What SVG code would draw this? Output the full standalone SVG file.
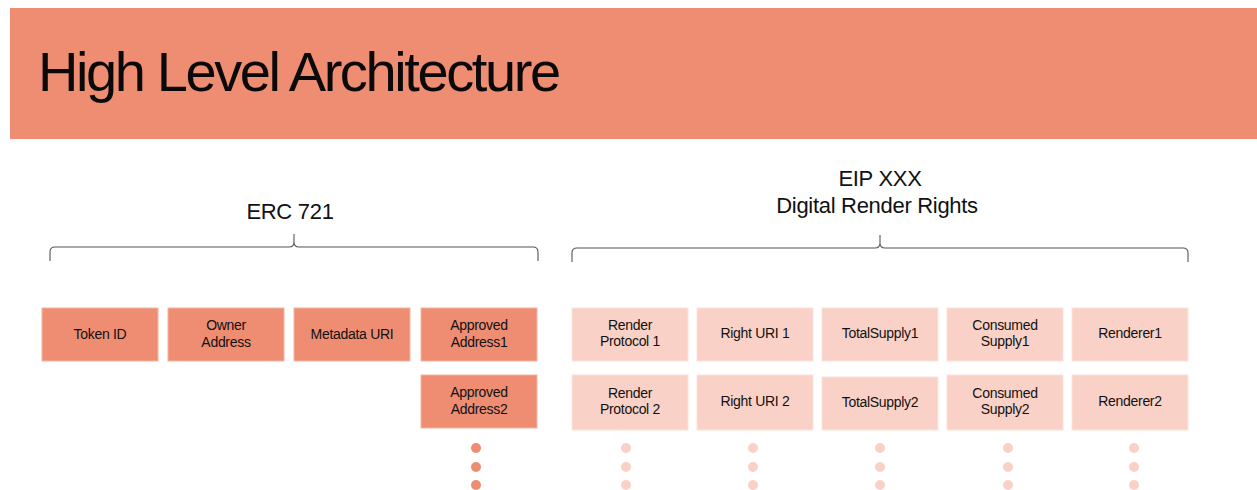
<svg xmlns="http://www.w3.org/2000/svg" width="1257" height="490" viewBox="0 0 1257 490">
  <style>
    .title { font-family: "Liberation Sans", Arial, sans-serif; font-size: 56px; fill: #0a0a0a; letter-spacing: -2.4px; }
    .group-label { font-family: "Liberation Sans", Arial, sans-serif; font-size: 22px; fill: #111111; text-anchor: middle; letter-spacing: -0.3px; }
    .label { font-family: "Liberation Sans", Arial, sans-serif; font-size: 14px; fill: #111111; text-anchor: middle; letter-spacing: -0.3px; }
    .erc { fill: #EF8D72; stroke: #F4B3A1; stroke-width: 1; }
    .drr { fill: #F9D1C7; stroke: #FBE2DB; stroke-width: 1; }
    .brace { fill: none; stroke: #555555; stroke-width: 1.1; }
    .dot-erc { fill: #EF8D72; }
    .dot-drr { fill: #F9D1C7; }
  </style>

  <rect width="1257" height="490" fill="#ffffff"/>

  <!-- header band -->
  <g id="header">
    <rect x="10" y="8" width="1247" height="131" fill="#EF8D72"/>
    <text class="title" x="38" y="91">High Level Architecture</text>
  </g>

  <!-- group headings -->
  <g id="erc721-heading">
    <text class="group-label" x="290" y="219">ERC 721</text>
  </g>
  <g id="drr-heading">
    <text class="group-label" x="880" y="186">EIP XXX</text>
    <text class="group-label" x="877" y="213">Digital Render Rights</text>
  </g>

  <!-- grouping braces -->
  <g id="connectors">
    <path class="brace" d="M50,261 L50,252 Q50,247 55,247 L289,247 Q294,247 294,242 L294,234 M294,242 Q294,247 299,247 L533,247 Q538,247 538,252 L538,261"/>
    <path class="brace" d="M572,262 L572,253 Q572,248 577,248 L875,248 Q880,248 880,243 L880,235 M880,243 Q880,248 885,248 L1183,248 Q1188,248 1188,253 L1188,262"/>
  </g>

  <!-- ERC 721 fields -->
  <g id="token-id">
    <rect class="erc" x="42" y="308" width="116" height="53"/>
    <text class="label" x="100" y="339">Token ID</text>
  </g>
  <g id="owner-address">
    <rect class="erc" x="168" y="308" width="116" height="53"/>
    <text class="label" x="226" y="330">Owner</text>
    <text class="label" x="226" y="347">Address</text>
  </g>
  <g id="metadata-uri">
    <rect class="erc" x="294" y="308" width="116" height="53"/>
    <text class="label" x="352" y="339">Metadata URI</text>
  </g>
  <g id="approved-address1">
    <rect class="erc" x="421" y="308" width="116" height="53"/>
    <text class="label" x="479" y="330">Approved</text>
    <text class="label" x="479" y="347">Address1</text>
  </g>
  <g id="approved-address2">
    <rect class="erc" x="421" y="375" width="116" height="53"/>
    <text class="label" x="479" y="397">Approved</text>
    <text class="label" x="479" y="414">Address2</text>
  </g>
  <g id="approved-more">
    <circle class="dot-erc" cx="476" cy="448" r="5"/>
    <circle class="dot-erc" cx="476" cy="467" r="5"/>
    <circle class="dot-erc" cx="476" cy="485" r="5"/>
  </g>

  <!-- Digital Render Rights fields -->
  <g id="render-protocol-1">
    <rect class="drr" x="572" y="308" width="116" height="53"/>
    <text class="label" x="630" y="330">Render</text>
    <text class="label" x="630" y="346">Protocol 1</text>
  </g>
  <g id="right-uri-1">
    <rect class="drr" x="697" y="308" width="116" height="53"/>
    <text class="label" x="755" y="338">Right URI 1</text>
  </g>
  <g id="total-supply-1">
    <rect class="drr" x="822" y="308" width="116" height="53"/>
    <text class="label" x="880" y="338">TotalSupply1</text>
  </g>
  <g id="consumed-supply-1">
    <rect class="drr" x="947" y="308" width="116" height="53"/>
    <text class="label" x="1005" y="330">Consumed</text>
    <text class="label" x="1005" y="346">Supply1</text>
  </g>
  <g id="renderer-1">
    <rect class="drr" x="1072" y="308" width="116" height="53"/>
    <text class="label" x="1130" y="338">Renderer1</text>
  </g>

  <g id="render-protocol-2">
    <rect class="drr" x="572" y="375" width="116" height="55"/>
    <text class="label" x="630" y="398">Render</text>
    <text class="label" x="630" y="414">Protocol 2</text>
  </g>
  <g id="right-uri-2">
    <rect class="drr" x="697" y="375" width="116" height="55"/>
    <text class="label" x="755" y="406">Right URI 2</text>
  </g>
  <g id="total-supply-2">
    <rect class="drr" x="822" y="377" width="116" height="53"/>
    <text class="label" x="880" y="407">TotalSupply2</text>
  </g>
  <g id="consumed-supply-2">
    <rect class="drr" x="947" y="375" width="116" height="55"/>
    <text class="label" x="1005" y="398">Consumed</text>
    <text class="label" x="1005" y="414">Supply2</text>
  </g>
  <g id="renderer-2">
    <rect class="drr" x="1072" y="375" width="116" height="55"/>
    <text class="label" x="1130" y="406">Renderer2</text>
  </g>

  <!-- continuation marks -->
  <g id="drr-more">
    <circle class="dot-drr" cx="626" cy="448" r="5"/>
    <circle class="dot-drr" cx="626" cy="467" r="5"/>
    <circle class="dot-drr" cx="626" cy="485" r="5"/>
    <circle class="dot-drr" cx="753" cy="448" r="5"/>
    <circle class="dot-drr" cx="753" cy="467" r="5"/>
    <circle class="dot-drr" cx="753" cy="485" r="5"/>
    <circle class="dot-drr" cx="880" cy="448" r="5"/>
    <circle class="dot-drr" cx="880" cy="467" r="5"/>
    <circle class="dot-drr" cx="880" cy="485" r="5"/>
    <circle class="dot-drr" cx="1008" cy="448" r="5"/>
    <circle class="dot-drr" cx="1008" cy="467" r="5"/>
    <circle class="dot-drr" cx="1008" cy="485" r="5"/>
    <circle class="dot-drr" cx="1134" cy="448" r="5"/>
    <circle class="dot-drr" cx="1134" cy="467" r="5"/>
    <circle class="dot-drr" cx="1134" cy="485" r="5"/>
  </g>
</svg>
